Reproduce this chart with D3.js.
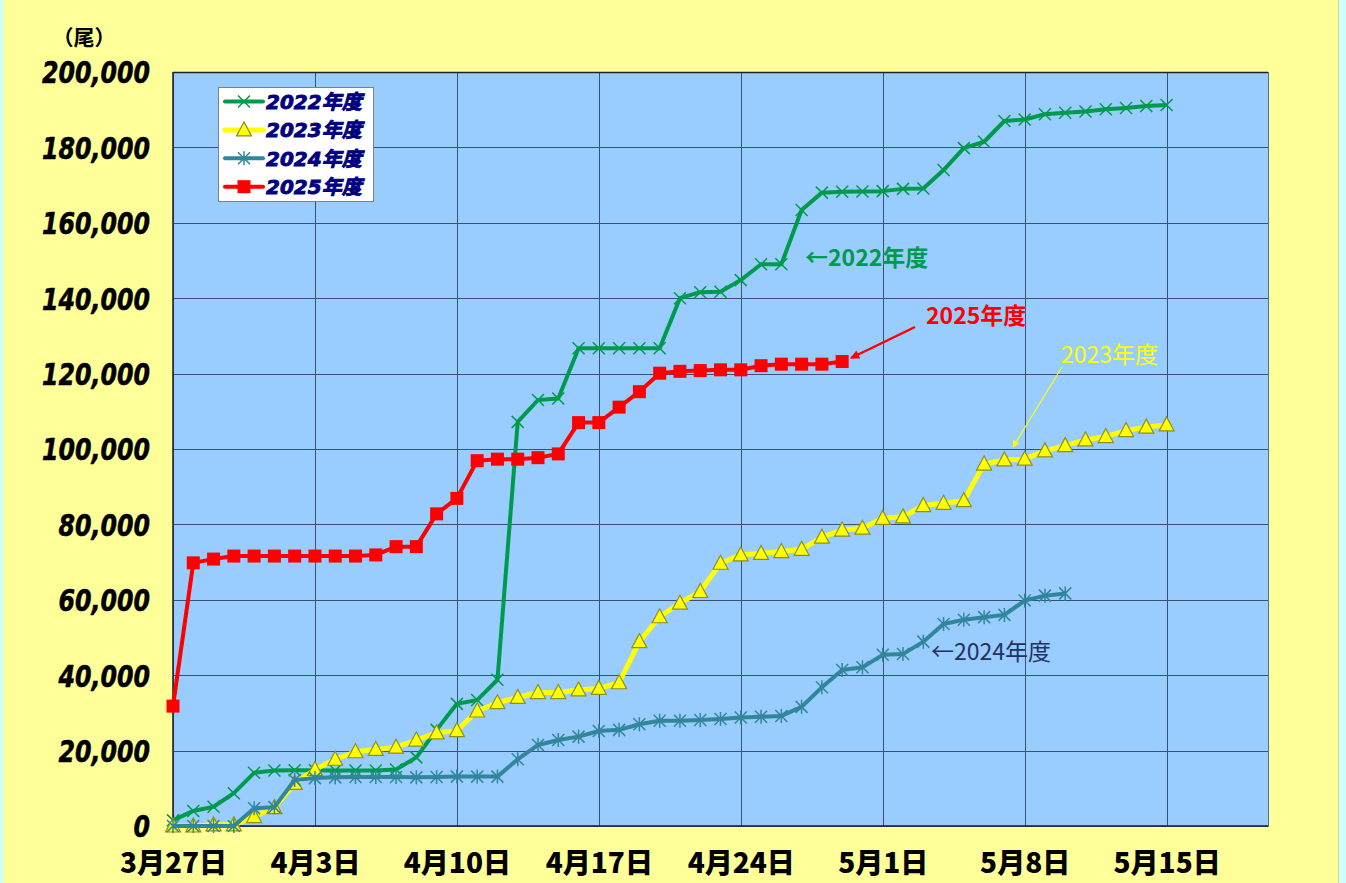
<!DOCTYPE html>
<html>
<head>
<meta charset="utf-8">
<script src="https://cdn.jsdelivr.net/npm/d3@7"></script>
<style>
  html, body { margin: 0; padding: 0; background: #ffff99; overflow: hidden; }
  svg { display: block; }
</style>
</head>
<body>
<div id="chart"></div>
<script>
// daily cumulative counts, starting 3/27
let startDate = "2025-03-27";
let endDate = "2025-05-20";
let seriesNames = ["2022年度", "2023年度", "2024年度", "2025年度"];
let y2022 = [1500, 4000, 5100, 8700, 14100, 14700, 14800, 14800, 14700, 14700,
    14700, 15000, 18200, 25500, 32400, 33400, 38800, 107200, 113000, 113400,
    126700, 126700, 126700, 126700, 126700, 140000, 141600, 141700, 144800, 149000,
    149000, 163400, 168000, 168250, 168300, 168400, 169000, 169100, 174000, 179800,
    181500, 187000, 187400, 188800, 189200, 189500, 190100, 190450, 191000, 191250];
let y2023 = [0, 0, 300, 300, 2500, 4900, 11300, 15000, 17700, 19700,
    20300, 20900, 22800, 24700, 25300, 30500, 32700, 34100, 35400, 35400,
    36100, 36500, 38000, 48900, 55500, 59100, 62200, 69700, 71900, 72300,
    72800, 73400, 76600, 78500, 79000, 81600, 82000, 85000, 85600, 86300,
    96000, 97100, 97300, 99500, 100900, 102400, 103300, 104900, 105800, 106400];
let y2024 = [0, 0, 0, 0, 4700, 5000, 12200, 12700, 12900, 13000,
    13000, 13000, 12900, 13000, 13100, 13100, 13100, 17700, 21500, 22800,
    23700, 25200, 25500, 27000, 27900, 27900, 28100, 28400, 28800, 29000,
    29200, 31600, 36800, 41400, 42100, 45400, 45600, 48900, 53600, 54700,
    55400, 56000, 59800, 61100, 61700];
let y2025 = [31800, 69800, 70800, 71600, 71600, 71600, 71600, 71600, 71600, 71600,
    71900, 74100, 74100, 82800, 86900, 96900, 97300, 97300, 97700, 98700,
    107000, 107000, 111100, 115200, 120100, 120600, 120800, 121000, 121000, 122100,
    122500, 122500, 122500, 123200];
let xTickLabels = ["3月27日", "4月3日", "4月10日", "4月17日", "4月24日", "5月1日", "5月8日", "5月15日"];
let yTicks = [0, 20000, 40000, 60000, 80000, 100000, 120000, 140000, 160000, 180000, 200000];

let W = 1346, H = 883;
let pLeft = 173, pRight = 1268, pTop = 72, pBottom = 826;
let DAY = 864e5;
let t0 = new Date(startDate + "T00:00:00Z");
let t1 = new Date(endDate + "T00:00:00Z");

let x = d3.scaleUtc().domain([t0, t1]).range([pLeft, pRight]);
let y = d3.scaleLinear().domain([0, 200000]).range([pBottom, pTop]);
let xTickDates = xTickLabels.map((_, i) => new Date(+t0 + i * 7 * DAY));

let svg = d3.select("#chart").append("svg")
    .attr("width", W).attr("height", H);

svg.append("rect").attr("width", W).attr("height", H).attr("fill", "#ffff99");
svg.append("rect").attr("x", 0).attr("width", 3).attr("height", H).attr("fill", "#ccffff");
svg.append("rect").attr("x", 1338).attr("width", 1).attr("height", H).attr("fill", "#d8d884");
svg.append("rect").attr("x", 1339).attr("width", W - 1339).attr("height", H).attr("fill", "#ccffff");

// plot area
svg.append("rect")
    .attr("x", pLeft).attr("y", pTop)
    .attr("width", pRight - pLeft).attr("height", pBottom - pTop)
    .attr("fill", "#99ccff");

// grid
let grid = svg.append("g").attr("stroke", "#2b3b5c").attr("stroke-width", 1).attr("opacity", 0.85);
grid.selectAll(".hg").data(yTicks.slice(1, -1)).join("line")
    .attr("x1", pLeft).attr("x2", pRight)
    .attr("y1", d => Math.round(y(d)) + 0.5).attr("y2", d => Math.round(y(d)) + 0.5);
grid.selectAll(".vg").data(xTickDates.slice(1)).join("line")
    .attr("y1", pTop).attr("y2", pBottom)
    .attr("x1", d => Math.round(x(d)) + 0.5).attr("x2", d => Math.round(x(d)) + 0.5);

// frame
svg.append("rect")
    .attr("x", pLeft + 0.5).attr("y", pTop + 0.5)
    .attr("width", pRight - pLeft).attr("height", pBottom - pTop)
    .attr("fill", "none").attr("stroke", "#5a6a8a").attr("stroke-width", 1);
svg.append("line").attr("x1", pLeft).attr("x2", pRight).attr("y1", pTop + 0.5).attr("y2", pTop + 0.5)
    .attr("stroke", "#222").attr("stroke-width", 1.5);
svg.append("line").attr("x1", pLeft).attr("x2", pRight).attr("y1", pBottom).attr("y2", pBottom)
    .attr("stroke", "#1a1a2a").attr("stroke-width", 1.5);
svg.append("line").attr("x1", pLeft).attr("x2", pLeft).attr("y1", pTop).attr("y2", pBottom)
    .attr("stroke", "#1a1a2a").attr("stroke-width", 1.5);

// y axis labels
let yAxis = d3.axisLeft(y).tickValues(yTicks).tickSize(0)
    .tickFormat(d => d3.format(",")(d));
let yg = svg.append("g").attr("transform", `translate(${pLeft},0)`).call(yAxis);
yg.select(".domain").remove();
yg.selectAll("text").remove();
yg.selectAll(".tick").append("text")
    .attr("transform", "translate(-23,0) scale(0.79,1)")
    .attr("text-anchor", "end")
    .attr("dy", "0.36em")
    .attr("fill", "#000")
    .attr("stroke", "#000").attr("stroke-width", 0.6)
    .style("font-family", "'DejaVu Sans', sans-serif")
    .style("font-weight", "bold")
    .style("font-style", "italic")
    .style("font-size", "30px")
    .text(d => d3.format(",")(d));

// x axis labels
let xAxis = d3.axisBottom(x).tickValues(xTickDates).tickSize(0)
    .tickFormat((d, i) => xTickLabels[i]);
let xg = svg.append("g").attr("transform", `translate(0,${pBottom})`).call(xAxis);
xg.select(".domain").remove();
xg.selectAll("text")
    .attr("y", 37).attr("dy", "0.36em")
    .attr("fill", "#000")
    .style("font-family", "'Noto Sans CJK JP', sans-serif")
    .style("font-weight", "900")
    .style("font-size", "28px");

// unit label
svg.append("text")
    .attr("x", 84).attr("y", 37).attr("dy", "0.36em")
    .attr("text-anchor", "middle")
    .style("font-family", "'Noto Sans CJK JP', sans-serif")
    .style("font-weight", "bold")
    .style("font-size", "21px")
    .text("（尾）");

// markers
function drawMarker(g, kind, color) {
    if (kind === "x") {
        g.append("path").attr("d", "M-6,-6L6,6M-6,6L6,-6")
            .attr("stroke", color).attr("stroke-width", 1.5).attr("fill", "none");
    } else if (kind === "star") {
        g.append("path").attr("d", "M-6,-6L6,6M-6,6L6,-6M0,-7L0,7")
            .attr("stroke", color).attr("stroke-width", 1.5).attr("fill", "none");
    } else if (kind === "tri") {
        g.append("path").attr("d", "M0,-8L7.5,6L-7.5,6Z")
            .attr("fill", "#ffff00").attr("stroke", "#8f8f1a").attr("stroke-width", 1.2);
    } else if (kind === "sq") {
        g.append("rect").attr("x", -6.5).attr("y", -6.5).attr("width", 13).attr("height", 13)
            .attr("fill", color);
    }
}

let series = [
    {name: seriesNames[0], values: y2022, color: "#009a4c", width: 4, marker: "x"},
    {name: seriesNames[1], values: y2023, color: "#ffff00", width: 5, marker: "tri"},
    {name: seriesNames[2], values: y2024, color: "#31869c", width: 4, marker: "star"},
    {name: seriesNames[3], values: y2025, color: "#ff0000", width: 4, marker: "sq"}
];

let line = d3.line()
    .x((d, i) => x(new Date(+t0 + i * DAY)))
    .y(d => y(d));

series.forEach(s => {
    let g = svg.append("g");
    g.append("path")
        .attr("d", line(s.values))
        .attr("fill", "none")
        .attr("stroke", s.color)
        .attr("stroke-width", s.width)
        .attr("stroke-linejoin", "round");
    g.selectAll("g").data(s.values).join("g")
        .attr("transform", (d, i) => `translate(${x(new Date(+t0 + i * DAY))},${y(d)})`)
        .each(function () { drawMarker(d3.select(this), s.marker, s.color); });
});

// legend
let lg = svg.append("g");
lg.append("rect").attr("x", 218.5).attr("y", 87.5).attr("width", 155).attr("height", 114)
    .attr("fill", "#fff").attr("stroke", "#808080").attr("stroke-width", 1);
series.forEach((s, i) => {
    let yy = 101.5 + i * 28.4;
    lg.append("line").attr("x1", 225).attr("x2", 263).attr("y1", yy).attr("y2", yy)
        .attr("stroke", s.color).attr("stroke-width", s.width).attr("stroke-linecap", "round");
    drawMarker(lg.append("g").attr("transform", `translate(244,${yy})`), s.marker, s.color);
    lg.append("text").attr("x", 266).attr("y", yy).attr("dy", "0.36em")
        .attr("fill", "#000080")
        .attr("stroke", "#000080").attr("stroke-width", 0.9)
        .style("font-family", "'DejaVu Sans', 'Noto Sans CJK JP', sans-serif")
        .style("font-weight", "bold")
        .style("font-style", "italic")
        .style("font-size", "20px")
        .text(s.name);
});

// annotations
let defs = svg.append("defs");
[["arRed", "#ff0000", 9], ["arYel", "#ffff00", 7]].forEach(([id, c, sz]) => {
    defs.append("marker").attr("id", id)
        .attr("viewBox", "0 0 10 10").attr("refX", 9).attr("refY", 5)
        .attr("markerUnits", "userSpaceOnUse")
        .attr("markerWidth", sz * 1.6).attr("markerHeight", sz)
        .attr("orient", "auto")
        .append("path").attr("d", "M0,0L10,5L0,10Z").attr("fill", c);
});

function note(txt, xx, yy, color, weight, size) {
    svg.append("text").attr("x", xx).attr("y", yy).attr("dy", "0.36em")
        .attr("fill", color)
        .style("font-family", "'Noto Sans CJK JP', sans-serif")
        .style("font-weight", weight)
        .style("font-size", size + "px")
        .text(txt);
}
note("←2022年度", 805, 258, "#009a4c", "bold", 23);
note("2025年度", 926, 316, "#ff0000", "bold", 23);
note("2023年度", 1061, 355, "#ffff00", "normal", 23);
note("←2024年度", 931, 652, "#1f3262", "normal", 23);

svg.append("line").attr("x1", 915).attr("y1", 327).attr("x2", 851).attr("y2", 358)
    .attr("stroke", "#ff0000").attr("stroke-width", 2.5).attr("marker-end", "url(#arRed)");
svg.append("line").attr("x1", 1062).attr("y1", 367).attr("x2", 1013).attr("y2", 447)
    .attr("stroke", "#ffff00").attr("stroke-width", 1.2).attr("marker-end", "url(#arYel)");
</script>
</body>
</html>
